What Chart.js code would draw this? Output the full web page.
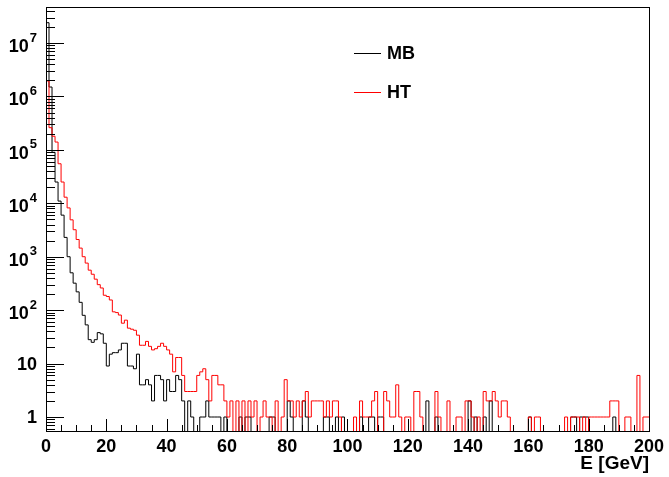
<!DOCTYPE html>
<html><head><meta charset="utf-8">
<script src="https://cdn.jsdelivr.net/npm/chart.js@4/dist/chart.umd.min.js"></script>
<style>html,body{margin:0;padding:0;background:#fff;overflow:hidden}canvas{display:block}</style>
</head><body>
<canvas id="c" width="669" height="477"></canvas>
<script>
// ---- data (counts per 1 GeV bin, 0..200 GeV) ----
const seriesNames = ['MB', 'HT'];
const seriesColors = ['#000000', '#ff0000'];
const binWidth = 1;
const mbCounts = [
  24000000, 1500000, 90000, 25000, 11000, 6000, 2300, 1000, 500, 320,
  220, 140, 80, 53, 28, 25, 28, 38, 36, 24,
  9, 15, 16, 16, 18, 24, 24, 9, 9, 8,
  15, 4, 4, 5, 4, 2, 6, 6, 5, 2,
  5, 3, 3, 6, 5, 2, 0, 2, 1, 0,
  0, 1, 1, 2, 1, 1, 1, 1, 0, 1,
  0, 0, 0, 0, 1, 0, 1, 1, 0, 0,
  0, 0, 0, 0, 1, 1, 0, 0, 0, 0,
  2, 1, 0, 0, 0, 2, 1, 0, 0, 0,
  0, 0, 1, 1, 0, 0, 1, 0, 1, 0,
  0, 0, 0, 0, 1, 0, 0, 1, 1, 0,
  1, 1, 0, 0, 0, 0, 0, 0, 0, 0,
  0, 0, 0, 0, 0, 0, 2, 0, 0, 1,
  0, 0, 0, 0, 0, 0, 0, 0, 0, 0,
  2, 0, 1, 0, 0, 1, 0, 2, 0, 0,
  0, 0, 0, 0, 0, 0, 0, 0, 0, 0,
  1, 0, 0, 0, 0, 0, 0, 0, 0, 0,
  0, 0, 0, 0, 1, 1, 0, 1, 1, 1,
  0, 0, 0, 0, 0, 0, 0, 0, 1, 0,
  0, 0, 0, 0, 0, 0, 0, 0, 0, 0
];
const htCounts = [
  1950000, 260000, 180000, 140000, 55000, 25000, 13000, 8200, 4900, 3200,
  2100, 1450, 1000, 760, 560, 470, 380, 300, 260, 190,
  180, 155, 93, 90, 81, 57, 65, 46, 44, 42,
  34, 22, 22, 26, 21, 18, 19, 21, 24, 21,
  18, 15, 7, 13, 13, 6, 3, 3, 3, 3,
  6, 7, 8, 5, 2, 6, 6, 4, 4, 2,
  1, 2, 0, 2, 0, 2, 0, 2, 1, 2,
  0, 1, 2, 1, 1, 0, 2, 0, 1, 5,
  2, 2, 1, 2, 1, 2, 3, 1, 2, 2,
  2, 2, 1, 2, 1, 2, 2, 1, 0, 0,
  0, 0, 1, 0, 2, 1, 1, 1, 2, 3,
  0, 0, 3, 2, 1, 1, 4, 1, 0, 1,
  1, 0, 3, 3, 1, 0, 0, 0, 0, 3,
  1, 0, 0, 2, 0, 0, 1, 1, 0, 2,
  2, 1, 0, 1, 0, 3, 2, 2, 3, 2,
  1, 2, 2, 1, 0, 0, 0, 0, 0, 0,
  1, 0, 1, 1, 0, 0, 0, 0, 0, 0,
  0, 0, 1, 0, 1, 1, 1, 0, 1, 0,
  1, 1, 1, 1, 1, 1, 1, 2, 2, 2,
  0, 0, 1, 1, 0, 0, 6, 0, 1, 1
];
const xTickValues = [0, 20, 40, 60, 80, 100, 120, 140, 160, 180, 200];
const yDecades = [0, 1, 2, 3, 4, 5, 6, 7];
const xTitle = 'E [GeV]';

// ---- build step points (value of bin i held from its low edge to its high edge) ----
const Y_MIN = 0.547, Y_MAX = 4.72e7, ZERO_LEVEL = 0.1;
function toSteps(counts) {
  const pts = [];
  counts.forEach((v, i) => {
    const y = v > 0 ? v : ZERO_LEVEL;
    pts.push({ x: i * binWidth, y: y });
  });
  const last = counts[counts.length - 1];
  pts.push({ x: counts.length * binWidth, y: last > 0 ? last : ZERO_LEVEL });
  return pts;
}
const FONT = '"Liberation Sans", Arial, Helvetica, sans-serif';

const rootAxes = {
  id: 'rootAxes',
  afterDraw(chart) {
    const ctx = chart.ctx, a = chart.chartArea, xs = chart.scales.x, ys = chart.scales.y;
    ctx.save();
    ctx.strokeStyle = '#000'; ctx.lineWidth = 1;
    ctx.strokeRect(Math.round(a.left) + 0.5, Math.round(a.top) + 0.5, Math.round(a.right - a.left), Math.round(a.bottom - a.top));
    ctx.beginPath();
    for (let d = -1; d <= 7; d++) {
      for (let m = 1; m <= 9; m++) {
        const v = m * Math.pow(10, d);
        if (v < Y_MIN || v > Y_MAX) continue;
        const y = Math.round(ys.getPixelForValue(v)) + 0.5;
        const len = m === 1 ? 18 : 9;
        ctx.moveTo(a.left, y); ctx.lineTo(a.left + len, y);
      }
    }
    for (let e = 0; e <= 200; e += 5) {
      const x = Math.round(xs.getPixelForValue(e)) + 0.5;
      const len = e % 20 === 0 ? 12 : 6;
      ctx.moveTo(x, a.bottom); ctx.lineTo(x, a.bottom - len);
    }
    ctx.stroke();
    ctx.fillStyle = '#000';
    yDecades.forEach(d => {
      const y = ys.getPixelForValue(Math.pow(10, d));
      const rx = 37;
      if (d === 0 || d === 1) {
        ctx.font = 'bold 18px ' + FONT;
        ctx.textAlign = 'right'; ctx.textBaseline = 'middle';
        ctx.fillText(d === 0 ? '1' : '10', rx, y + 1);
      } else {
        ctx.font = 'bold 13px ' + FONT;
        ctx.textAlign = 'right'; ctx.textBaseline = 'middle';
        const ew = ctx.measureText(String(d)).width;
        ctx.fillText(String(d), rx, y - 5);
        ctx.font = 'bold 18px ' + FONT;
        ctx.fillText('10', rx - ew - 1, y + 4);
      }
    });
    ctx.font = 'bold 18px ' + FONT;
    ctx.textAlign = 'left'; ctx.textBaseline = 'middle';
    const legY = [53.5, 92.5];
    const order = [1, 0];
    order.forEach((di, k) => {
      const ds = chart.data.datasets[di];
      ctx.strokeStyle = ds.borderColor; ctx.lineWidth = 1;
      ctx.beginPath(); ctx.moveTo(354, legY[k]); ctx.lineTo(381, legY[k]); ctx.stroke();
      ctx.fillStyle = '#000';
      ctx.fillText(ds.label, 387, legY[k] + 1);
    });
    ctx.restore();
  }
};

new Chart(document.getElementById('c'), {
  type: 'line',
  data: {
    datasets: [
      { label: seriesNames[1], data: toSteps(htCounts), borderColor: seriesColors[1], order: 0 },
      { label: seriesNames[0], data: toSteps(mbCounts), borderColor: seriesColors[0], order: 1 }
    ]
  },
  options: {
    responsive: false, animation: false, devicePixelRatio: 1,
    layout: { padding: { left: 0, right: 19, top: 7, bottom: 0 } },
    elements: { line: { stepped: 'before', borderWidth: 1, tension: 0, fill: false }, point: { radius: 0 } },
    plugins: { legend: { display: false }, tooltip: { enabled: false }, title: { display: false } },
    scales: {
      x: {
        type: 'linear', min: 0, max: 200,
        afterFit(s) { s.height = 46; },
        afterBuildTicks(s) { s.ticks = xTickValues.map(v => ({ value: v })); },
        grid: { display: false, drawTicks: false }, border: { display: false },
        ticks: { autoSkip: false, maxRotation: 0, padding: 5, color: '#000', font: { family: FONT, weight: 'bold', size: 18 } },
        title: { display: true, text: xTitle, align: 'end', color: '#000', padding: { top: 0, bottom: 2 }, font: { family: FONT, weight: 'bold', size: 19 } }
      },
      y: {
        type: 'logarithmic', min: Y_MIN, max: Y_MAX,
        afterFit(s) { s.width = 46; },
        grid: { display: false, drawTicks: false }, border: { display: false },
        ticks: { display: false }
      }
    }
  },
  plugins: [rootAxes]
});
</script>
</body></html>
